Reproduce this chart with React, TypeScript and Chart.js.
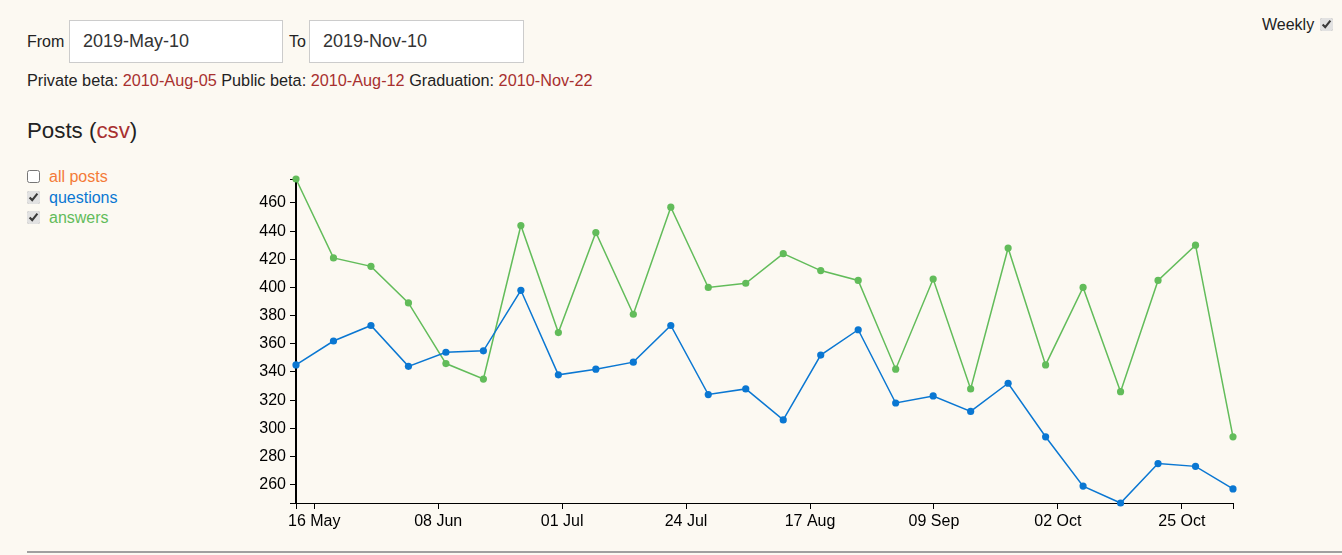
import React, { useEffect, useRef } from 'react';
import { Chart, registerables } from 'chart.js';

Chart.register(...registerables);

// ---- data ----
const weekDates = [
  '2019-05-13', '2019-05-20', '2019-05-27', '2019-06-03', '2019-06-10', '2019-06-17',
  '2019-06-24', '2019-07-01', '2019-07-08', '2019-07-15', '2019-07-22', '2019-07-29',
  '2019-08-05', '2019-08-12', '2019-08-19', '2019-08-26', '2019-09-02', '2019-09-09',
  '2019-09-16', '2019-09-23', '2019-09-30', '2019-10-07', '2019-10-14', '2019-10-21',
  '2019-10-28', '2019-11-04',
];
const questions = [
  345, 362, 373, 344, 354, 355, 398, 338, 342, 347, 373, 324, 328,
  306, 352, 370, 318, 323, 312, 332, 294, 259, 247, 275, 273, 257,
];
const answers = [
  477, 421, 415, 389, 346, 335, 444, 368, 439, 381, 457, 400, 403,
  424, 412, 405, 342, 406, 328, 428, 345, 400, 326, 405, 430, 294,
];
// x tick values (ms since epoch) and their labels
const xTickTimes = [1558e9, 1560e9, 1562e9, 1564e9, 1566e9, 1568e9, 1570e9, 1572e9];
const xTickLabels = ['16 May', '08 Jun', '01 Jul', '24 Jul', '17 Aug', '09 Sep', '02 Oct', '25 Oct'];
const yTicks = [260, 280, 300, 320, 340, 360, 380, 400, 420, 440, 460];

// ---- styles ----
const BG = '#fcf9f2';
const BLUE = '#0a77d2';
const GREEN = '#62bc5a';
const ORANGE = '#f47b38';
const LINK = '#a8302f';
const TEXT = '#222';
const FONT = '"Liberation Sans", Arial, Helvetica, sans-serif';

const toMs = (d: string) => Date.parse(d + 'T00:00:00Z');

function Txt(props: { left: number; cy: number; size: number; lh?: number; children: any; style?: any }) {
  const lh = props.lh ?? Math.round(props.size * 1.2);
  return (
    <div
      style={{
        position: 'absolute',
        left: props.left,
        top: props.cy - lh / 2,
        lineHeight: lh + 'px',
        fontSize: props.size,
        whiteSpace: 'nowrap',
        ...(props.style || {}),
      }}
    >
      {props.children}
    </div>
  );
}

function Box(props: { left: number; cy: number; checked: boolean }) {
  return (
    <input
      type="checkbox"
      defaultChecked={props.checked}
      style={{
        position: 'absolute',
        left: props.left,
        top: props.cy - 6.5,
        width: 13,
        height: 13,
        margin: 0,
        accentColor: '#e2e2e2',
      }}
    />
  );
}

export default function App() {
  const ref = useRef<HTMLCanvasElement>(null);

  useEffect(() => {
    document.body.style.background = BG;
    const canvas = ref.current;
    if (!canvas) return;
    const xs = weekDates.map(toMs);
    const xMin = Math.min(...xs);
    const xMax = Math.max(...xs);
    const all = [...questions, ...answers];
    const yMin = Math.min(...all);
    const yMax = Math.max(...all);

    const mk = (label: string, vals: number[], color: string) => ({
      label,
      data: vals.map((v, i) => ({ x: xs[i], y: v })),
      borderColor: color,
      backgroundColor: color,
      borderWidth: 1.5,
      pointRadius: 3.6,
      pointBorderWidth: 0,
      pointHoverRadius: 3.6,
      tension: 0,
      clip: false as any,
    });

    const chart = new Chart(canvas, {
      type: 'line',
      data: {
        datasets: [mk('questions', questions, BLUE), mk('answers', answers, GREEN)],
      },
      options: {
        animation: false,
        responsive: false,
        maintainAspectRatio: false,
        events: [],
        layout: { padding: { top: 14, right: 17, left: 0, bottom: 0 } },
        plugins: { legend: { display: false }, tooltip: { enabled: false } },
        scales: {
          x: {
            type: 'linear',
            min: xMin,
            max: xMax,
            afterBuildTicks: (s: any) => {
              s.ticks = [{ value: xMin }, ...xTickTimes.map((v) => ({ value: v })), { value: xMax }];
            },
            afterFit: (s: any) => {
              s.height = 42;
            },
            ticks: {
              autoSkip: false,
              maxRotation: 0,
              minRotation: 0,
              color: '#000',
              padding: 3,
              font: { family: FONT, size: 16 },
              callback: (v: any) => {
                const i = xTickTimes.indexOf(Number(v));
                return i >= 0 ? xTickLabels[i] : '';
              },
            },
            grid: { drawOnChartArea: false, drawTicks: true, tickLength: 6, color: '#000', lineWidth: 1 },
            border: { display: true, color: '#000', width: 1 },
          },
          y: {
            type: 'linear',
            min: yMin,
            max: yMax,
            afterBuildTicks: (s: any) => {
              s.ticks = [{ value: yMin }, ...yTicks.map((v) => ({ value: v })), { value: yMax }];
            },
            afterFit: (s: any) => {
              s.width = 56;
            },
            ticks: {
              autoSkip: false,
              color: '#000',
              padding: 4,
              font: { family: FONT, size: 16 },
              callback: (v: any) => (yTicks.indexOf(Number(v)) >= 0 ? String(v) : ''),
            },
            grid: { drawOnChartArea: false, drawTicks: true, tickLength: 6, color: '#000', lineWidth: 1 },
            border: { display: true, color: '#000', width: 2 },
          },
        },
      },
    });
    return () => chart.destroy();
  }, []);

  const inputStyle: any = {
    position: 'absolute',
    top: 20,
    height: 43,
    boxSizing: 'border-box',
    border: '1px solid #ccc',
    background: '#fff',
    fontFamily: FONT,
    fontSize: 18,
    color: '#333',
    paddingLeft: 13,
    margin: 0,
    outline: 'none',
  };

  return (
    <div
      style={{
        position: 'absolute',
        left: 0,
        top: 0,
        width: 1342,
        height: 555,
        overflow: 'hidden',
        background: BG,
        fontFamily: FONT,
        color: TEXT,
      }}
    >
      <Txt left={27} cy={41} size={16}>From</Txt>
      <input style={{ ...inputStyle, left: 69, width: 214 }} defaultValue="2019-May-10" />
      <Txt left={289} cy={41} size={16}>To</Txt>
      <input style={{ ...inputStyle, left: 309, width: 215 }} defaultValue="2019-Nov-10" />

      <Txt left={1262} cy={24} size={16}>Weekly</Txt>
      <Box left={1320} cy={24} checked={true} />

      <Txt left={27} cy={80} size={16.25}>
        Private beta: <span style={{ color: LINK }}>2010-Aug-05</span> Public beta:{' '}
        <span style={{ color: LINK }}>2010-Aug-12</span> Graduation:{' '}
        <span style={{ color: LINK }}>2010-Nov-22</span>
      </Txt>

      <Txt left={27} cy={130} size={22.3}>
        Posts (<span style={{ color: LINK }}>csv</span>)
      </Txt>

      <Box left={27} cy={176} checked={false} />
      <Txt left={49} cy={176} size={16} style={{ color: ORANGE }}>all posts</Txt>
      <Box left={27} cy={197} checked={true} />
      <Txt left={49} cy={197} size={16} style={{ color: BLUE }}>questions</Txt>
      <Box left={27} cy={217} checked={true} />
      <Txt left={49} cy={217} size={16} style={{ color: GREEN }}>answers</Txt>

      <canvas
        ref={ref}
        width={1010}
        height={380}
        style={{ position: 'absolute', left: 240, top: 165, width: 1010, height: 380 }}
      />

      <div style={{ position: 'absolute', left: 27, right: 0, top: 551, height: 2, background: '#a0a0a0' }} />
    </div>
  );
}
